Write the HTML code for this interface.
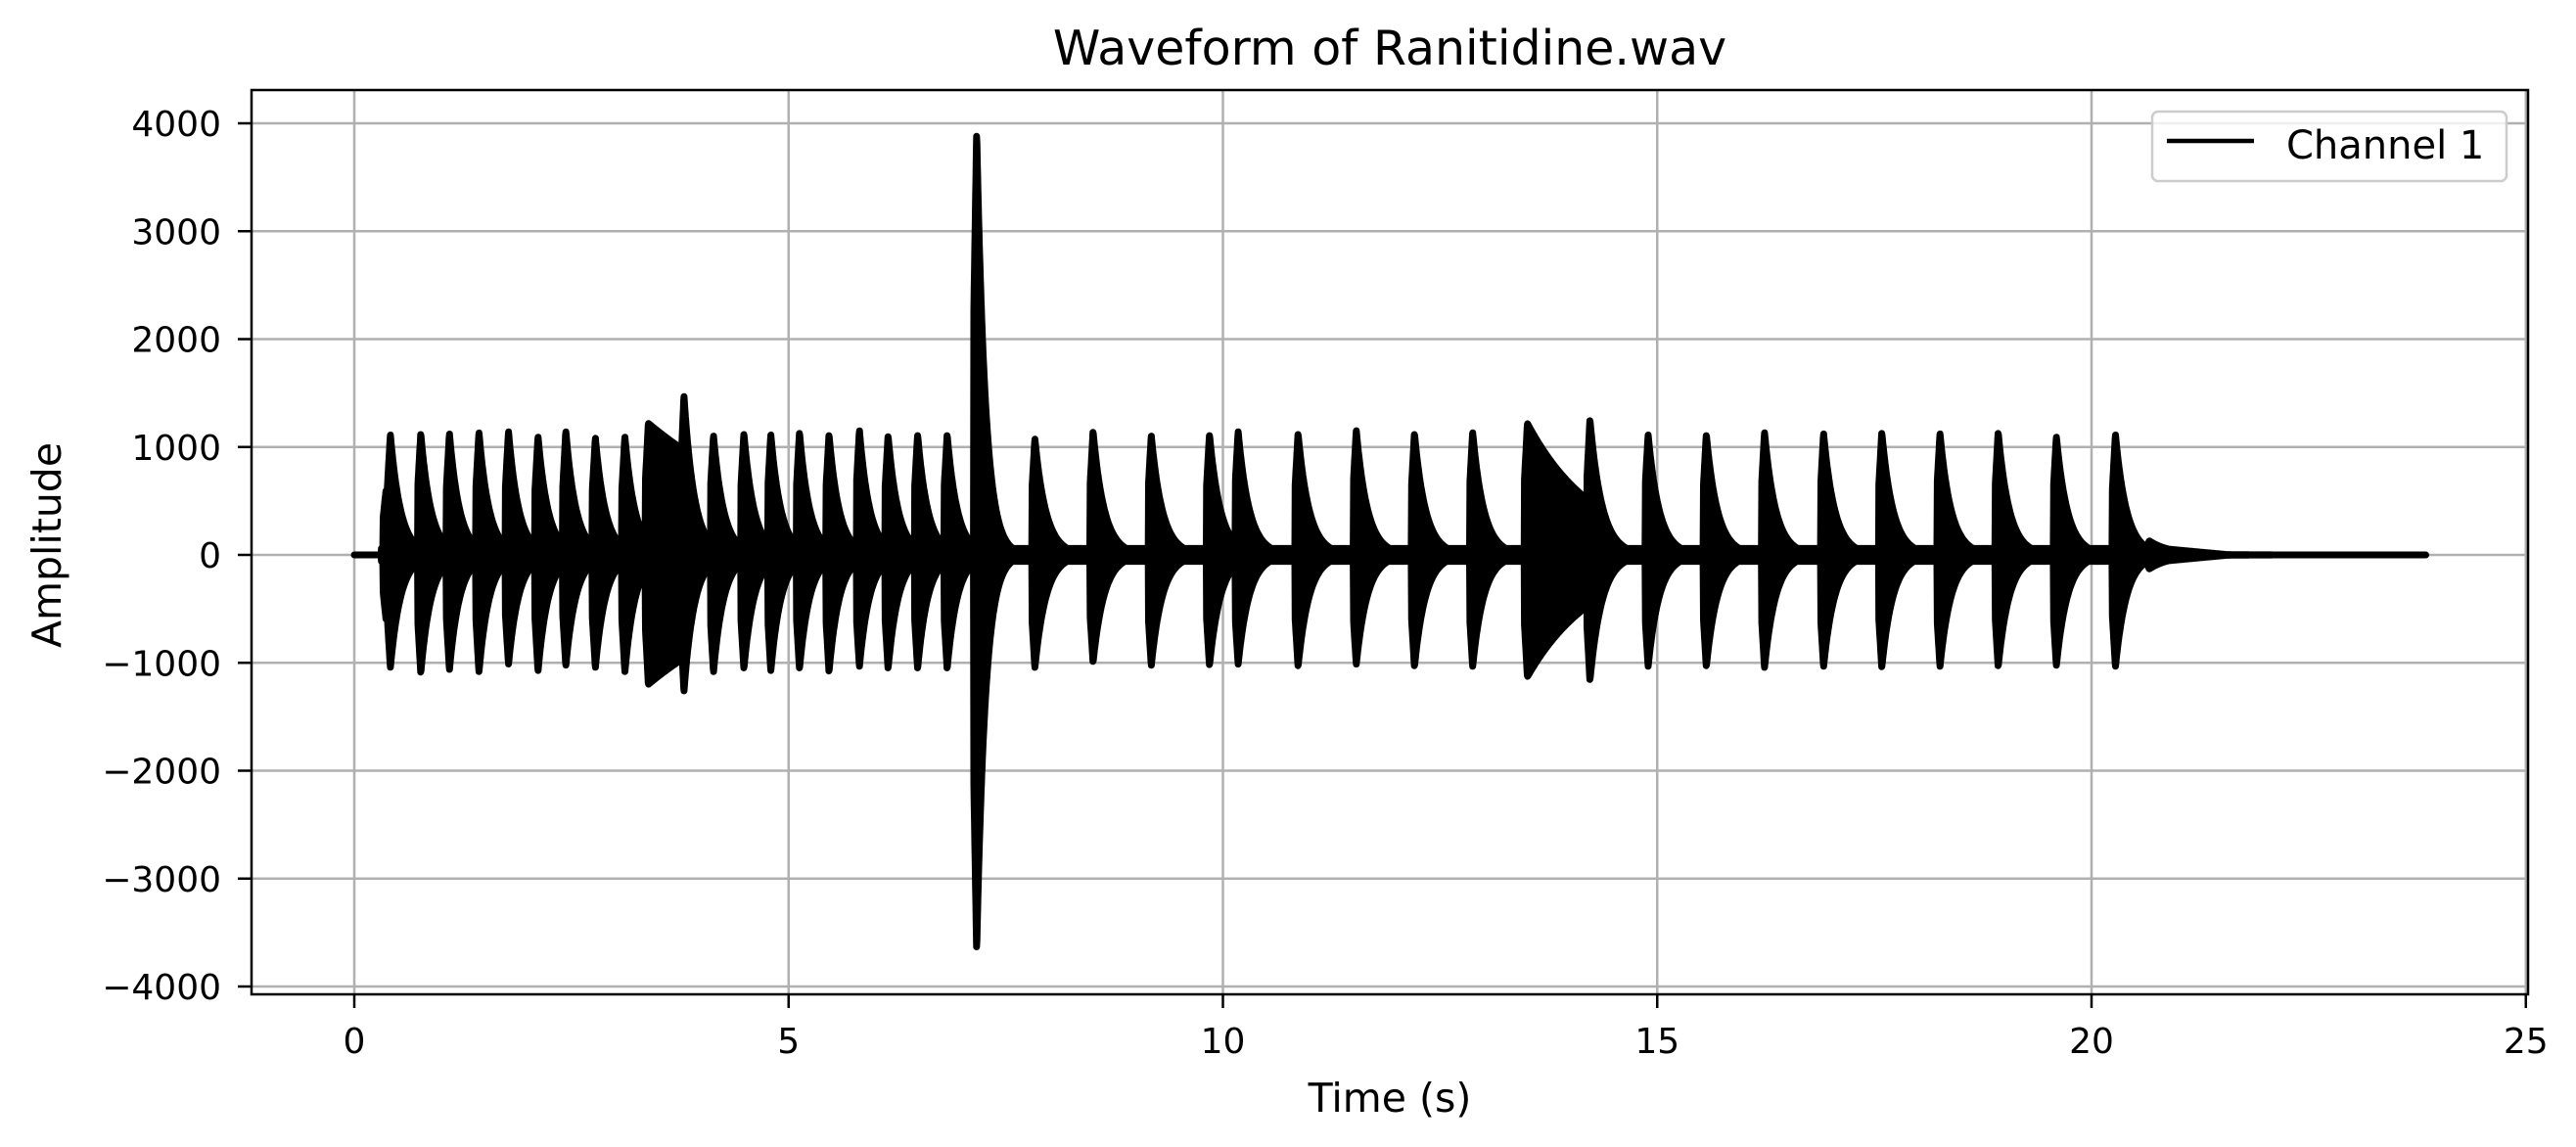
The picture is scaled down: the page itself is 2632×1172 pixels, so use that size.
<!DOCTYPE html>
<html><head><meta charset="utf-8"><style>
html,body{margin:0;padding:0;background:#fff;}
svg{display:block;font-family:"DejaVu Sans","Liberation Sans",sans-serif;}
</style></head><body>
<svg id="chart" width="2632" height="1172" viewBox="0 0 2632 1172">
<rect width="2632" height="1172" fill="#fff"/>
<g id="grid"></g>
<g id="wave"></g>
<rect x="257" y="92" width="2326" height="924" fill="none" stroke="#000" stroke-width="2.5"/>
<g id="xticks"></g>
<g id="yticks"></g>
<text x="1420" y="66" font-size="49" text-anchor="middle">Waveform of Ranitidine.wav</text>
<text x="1420" y="1136" font-size="41" text-anchor="middle">Time (s)</text>
<text x="0" y="0" font-size="41" text-anchor="middle" transform="translate(62,557) rotate(-90)">Amplitude</text>
<g>
<rect x="2199" y="114" width="362" height="71" rx="6" fill="#fff" fill-opacity="0.8" stroke="#ccc" stroke-width="2.5"/>
<line x1="2214" y1="144" x2="2303" y2="144" stroke="#000" stroke-width="4.5"/>
<text x="2336" y="162" font-size="40">Channel 1</text>
</g>
</svg>
<script>
const xTicks=[0,5,10,15,20,25];
const yTicks=[-4000,-3000,-2000,-1000,0,1000,2000,3000,4000];
const yTickLabels=["\u22124000","\u22123000","\u22122000","\u22121000","0","1000","2000","3000","4000"];
const beatTimes=[0.33,0.38,0.73,1.06,1.40,1.74,2.08,2.40,2.74,3.08,3.35,3.76,4.10,4.45,4.76,5.09,5.43,5.78,6.11,6.45,6.79,7.13,7.80,8.47,9.14,9.81,10.14,10.83,11.50,12.17,12.84,13.47,14.19,14.86,15.53,16.20,16.88,17.55,18.22,18.89,19.56,20.24,20.63];
const beatPos=[600,1120,1130,1130,1140,1150,1100,1150,1090,1100,1220,1480,1110,1130,1120,1140,1120,1160,1110,1120,1120,3930,1080,1150,1110,1120,1150,1130,1160,1130,1140,1220,1260,1120,1120,1140,1130,1140,1130,1140,1100,1120,130];
const beatNeg=[-600,-1050,-1100,-1070,-1090,-1020,-1080,-1030,-1050,-1090,-1200,-1270,-1090,-1060,-1080,-1060,-1090,-1040,-1060,-1060,-1060,-3680,-1050,-1000,-1030,-1030,-1020,-1040,-1020,-1040,-1040,-1130,-1170,-1040,-1040,-1050,-1040,-1050,-1040,-1040,-1030,-1040,-130];
const beatTau=[0.1,0.12,0.12,0.12,0.12,0.12,0.12,0.12,0.12,0.12,1.8,0.12,0.12,0.12,0.12,0.12,0.12,0.12,0.12,0.12,0.12,0.1,0.13,0.13,0.13,0.13,0.13,0.13,0.13,0.13,0.13,0.8,0.14,0.13,0.13,0.13,0.13,0.13,0.13,0.13,0.13,0.13,0.25];
const beatLen=[9,9,9,9,9,9,9,9,9,9,0.42,9,9,9,9,9,9,9,9,9,9,9,9,9,9,9,9,9,9,9,9,0.65,9,9,9,9,9,9,9,9,9,9,9];
const signalStart=0.31, signalEnd=21.6, durationEnd=23.85;

const X0=362, PXS=88.75, Y0=567, PXA=441/4000;
const xs=t=>X0+t*PXS, ys=a=>Y0-a*PXA;
const NS="http://www.w3.org/2000/svg";
function mk(tag,attrs,parent){const e=document.createElementNS(NS,tag);for(const k in attrs)e.setAttribute(k,attrs[k]);parent.appendChild(e);return e;}

const grid=document.getElementById('grid'),xg=document.getElementById('xticks'),yg=document.getElementById('yticks');
xTicks.forEach(v=>{
 const l=mk('line',{x1:xs(v),x2:xs(v),y1:92,y2:1016,stroke:'#b0b0b0','stroke-width':2.5},grid);
 
 
 const t=mk('line',{x1:xs(v),x2:xs(v),y1:1016,y2:1030,stroke:'#000','stroke-width':2.5},xg);
 
 
 const tx=mk('text',{x:xs(v),y:1076,'font-size':36,'text-anchor':'middle'},xg);
 tx.textContent=v;
 
 
});
yTicks.forEach((v,i)=>{
 const l=mk('line',{x1:257,x2:2583,y1:ys(v),y2:ys(v),stroke:'#b0b0b0','stroke-width':2.5},grid);
 
 
 const t=mk('line',{x1:243,x2:257,y1:ys(v),y2:ys(v),stroke:'#000','stroke-width':2.5},yg);
 
 
 const tx=mk('text',{x:226,y:ys(v)+13,'font-size':36,'text-anchor':'end'},yg);
 tx.textContent=yTickLabels[i];
 
 
});

function env(t,arr){
 if(t<signalStart||t>signalEnd+0.5)return 0;
 let best=0;
 for(let i=0;i<beatTimes.length;i++){
  const dt=t-beatTimes[i]; if(dt<0)continue;
  const A=Math.abs(arr[i]);let v;
  if(dt<0.035)v=A*(0.55+0.45*dt/0.035);else v=A*Math.exp(-(dt-0.035)/beatTau[i]);
  if(dt>beatLen[i])v=Math.min(v,A*Math.exp(-(dt-beatLen[i])/0.03)*Math.exp(-(beatLen[i]-0.035)/beatTau[i]));
  if(v>best)best=v;
 }
 const fl=t<signalEnd?60*Math.min(1,(signalEnd-t)/0.8):0;
 return Math.max(best,fl);
}
const wave=document.getElementById('wave');
let up=[],dn=[];
for(let t=0;t<=durationEnd+1e-9;t+=0.004){
 up.push(xs(t).toFixed(1)+','+ys(env(t,beatPos)).toFixed(1));
 dn.push(xs(t).toFixed(1)+','+ys(-env(t,beatNeg)).toFixed(1));
}
const poly=mk('polygon',{points:up.concat(dn.reverse()).join(' '),fill:'#000',stroke:'#000','stroke-width':7,'stroke-linejoin':'round'},wave);


</script>
</body></html>
